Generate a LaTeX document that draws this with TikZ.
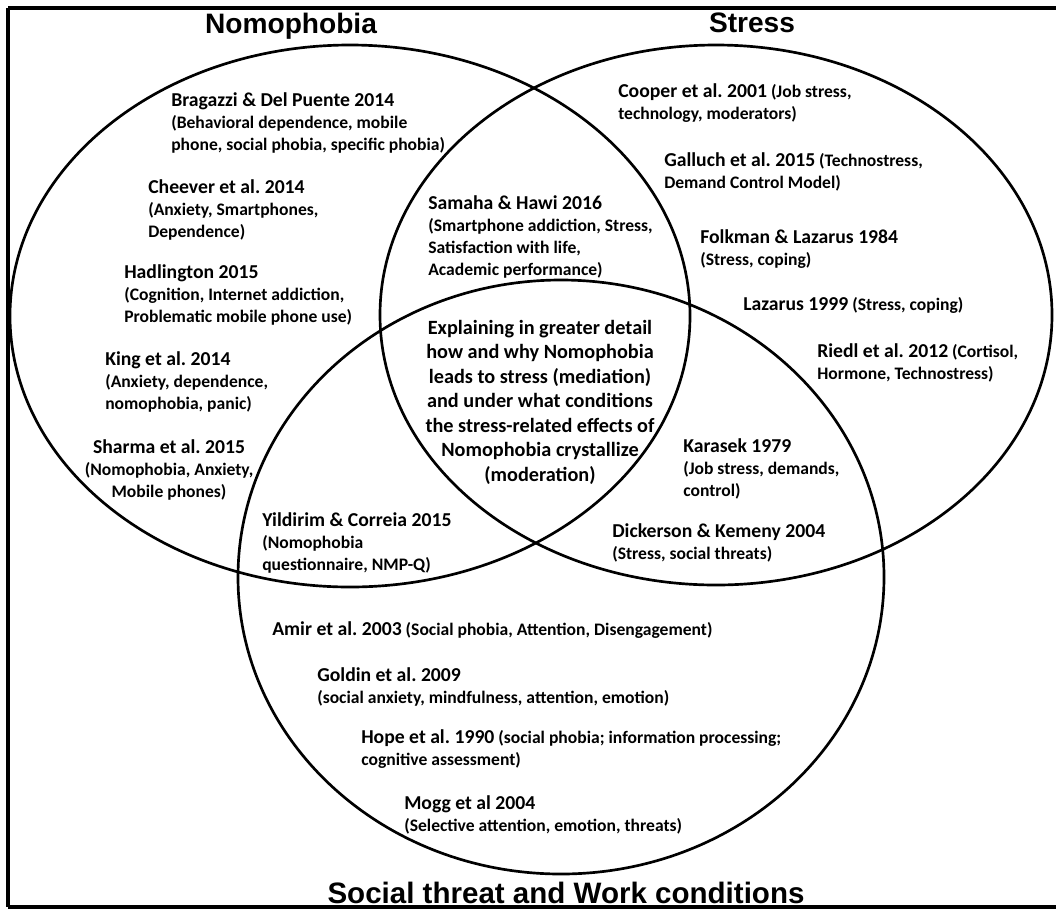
\documentclass[tikz,border=0pt]{standalone}
\usepackage{fontspec}
\setmainfont{Carlito}
\newfontfamily\titlefont{Liberation Sans}
\usepackage{tikz}
\frenchspacing

% author name and year, a little larger than the keywords
\newcommand{\authoryear}[1]{{\fontsize{14}{15.6}\selectfont #1}}

\begin{document}
\begin{tikzpicture}[x=0.025cm,y=-0.025cm,
    venn/.style={line width=1.9pt},
    ref/.style={anchor=base west,inner sep=0pt,align=left,
      font=\fontsize{12.5}{15.6}\selectfont\bfseries},
    head/.style={anchor=base,inner sep=0pt,font=\titlefont\bfseries\fontsize{20}{24}\selectfont}]
  \useasboundingbox (0,0) rectangle (1057,909);
  % frame, open at the right
  \draw[line width=2.2pt] (8,8)--(8,907);
  \draw[line width=2.2pt] (8,8)--(1056,8);
  \draw[line width=2.2pt] (8,907)--(1056,907);
  % the three sets
  \draw[venn] (350,316) ellipse [x radius=340, y radius=271];
  \draw[venn] (716,315) ellipse [x radius=336, y radius=270];
  \draw[venn] (561,577) ellipse [x radius=323, y radius=297];
  \node[head] (nomo) at (291,33) {Nomophobia};
  \node[head] (stress) at (752,32) {Stress};
  \node[head,font=\titlefont\bfseries\fontsize{21}{24}\selectfont] (social) at (566,903)
    {Social threat and Work conditions};
  % Nomophobia only (base = last line)
  \node[ref] (bragazzi) at (171,150) {\authoryear{Bragazzi \& Del Puente 2014}\\
    (Behavioral dependence, mobile\\ phone, social phobia, specific phobia)};
  \node[ref] (cheever) at (148,237) {\authoryear{Cheever et al. 2014}\\
    (Anxiety, Smartphones,\\ Dependence)};
  \node[ref] (hadlington) at (124,322) {\authoryear{Hadlington 2015}\\
    (Cognition, Internet addiction,\\ Problematic mobile phone use)};
  \node[ref] (king) at (105,409) {\authoryear{King et al. 2014}\\
    (Anxiety, dependence,\\ nomophobia, panic)};
  \node[ref,anchor=base,align=center] (sharma) at (169,497)
    {\authoryear{Sharma et al. 2015}\\ (Nomophobia, Anxiety,\\ Mobile phones)};
  % Nomophobia and Social threat
  \node[ref] (yildirim) at (262,570) {\authoryear{Yildirim \& Correia 2015}\\
    (Nomophobia\\ questionnaire, NMP-Q)};
  % Nomophobia and Stress
  \node[ref] (samaha) at (428,275) {\authoryear{Samaha \& Hawi 2016}\\
    (Smartphone addiction, Stress,\\ Satisfaction with life,\\ Academic performance)};
  % Stress only
  \node[ref] (cooper) at (618,119) {\authoryear{Cooper et al. 2001} (Job stress,\\
    technology, moderators)};
  \node[ref] (galluch) at (664,188) {\authoryear{Galluch et al. 2015} (Technostress,\\
    Demand Control Model)};
  \node[ref] (folkman) at (700,265) {\authoryear{Folkman \& Lazarus 1984}\\
    (Stress, coping)};
  \node[ref] (lazarus) at (743,310) {\authoryear{Lazarus 1999} (Stress, coping)};
  \node[ref] (riedl) at (817,379) {\authoryear{Riedl et al. 2012} (Cortisol,\\
    Hormone, Technostress)};
  % Stress and Social threat
  \node[ref] (karasek) at (683,496) {\authoryear{Karasek 1979}\\
    (Job stress, demands,\\ control)};
  \node[ref] (dickerson) at (612,559) {\authoryear{Dickerson \& Kemeny 2004}\\
    (Stress, social threats)};
  % all three
  \node[ref,anchor=base,align=center,font=\fontsize{14.4}{17.4}\selectfont\bfseries]
    (centre) at (540,481) {Explaining in greater detail\\ how and why Nomophobia\\
    leads to stress (mediation)\\ and under what conditions\\
    the stress-related effects of\\ Nomophobia crystallize\\ (moderation)};
  % Social threat only
  \node[ref] (amir) at (272,635) {\authoryear{Amir et al. 2003}
    (Social phobia, Attention, Disengagement)};
  \node[ref] (goldin) at (317,703) {\authoryear{Goldin et al. 2009}\\
    (social anxiety, mindfulness, attention, emotion)};
  \node[ref] (hope) at (361,765) {\authoryear{Hope et al. 1990}
    (social phobia; information processing;\\ cognitive assessment)};
  \node[ref] (mogg) at (404,831) {\authoryear{Mogg et al 2004}\\
    (Selective attention, emotion, threats)};
\end{tikzpicture}
\end{document}
